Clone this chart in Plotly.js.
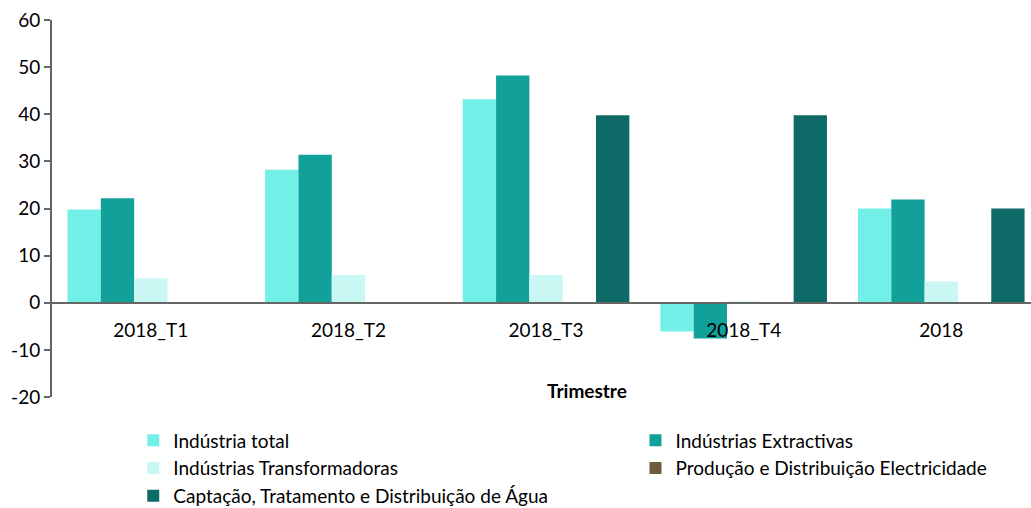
<!DOCTYPE html>
<html>
<head>
<meta charset="utf-8">
<script src="https://cdn.plot.ly/plotly-3.0.1.min.js"></script>
<style>html,body{margin:0;padding:0;background:#fff;}#chart{width:1031px;height:508px;}</style>
</head>
<body>
<div id="chart"></div>
<script>
const categories = ["2018_T1", "2018_T2", "2018_T3", "2018_T4", "2018"];
const seriesNames = ["Indústria total", "Indústrias Extractivas", "Indústrias Transformadoras", "Produção e Distribuição Electricidade", "Captação, Tratamento e Distribuição de Água"];
const industriaTotal = [19.8, 28.2, 43.2, -6.1, 20.0];
const industriasExtractivas = [22.2, 31.4, 48.2, -7.6, 21.9];
const industriasTransformadoras = [5.2, 5.9, 5.9, 0.3, 4.5];
const producaoElectricidade = [null, null, null, null, null];
const captacaoAgua = [null, null, 39.8, 39.8, 20.0];
const seriesColors = ["#72EFE7", "#12A09A", "#C9F7F3", "#6B5A3E", "#0E6A66"];
const legendColumn = ["legend", "legend2", "legend", "legend2", "legend"];
const yTicks = [-20, -10, 0, 10, 20, 30, 40, 50, 60];

const values = [industriaTotal, industriasExtractivas, industriasTransformadoras, producaoElectricidade, captacaoAgua];
const traces = values.map((v, i) => ({
  type: 'bar', name: seriesNames[i], x: categories, y: v, legend: legendColumn[i],
  marker: {color: seriesColors[i], line: {width: 0}}, hoverinfo: 'none'
}));

const font = "Lato, 'Open Sans', sans-serif";
const fs = 19;
const legendBase = {orientation: 'v', xanchor: 'left', yanchor: 'top', traceorder: 'normal',
  font: {family: font, size: fs, color: '#000'}, tracegroupgap: 0, bgcolor: 'rgba(0,0,0,0)'};
const layout = {
  width: 1031, height: 508,
  margin: {l: 52, r: 0, t: 19.5, b: 111, autoexpand: false},
  paper_bgcolor: '#fff', plot_bgcolor: '#fff',
  font: {family: font, size: fs, color: '#000'},
  barmode: 'group', bargap: 0.157, bargroupgap: 0,
  showlegend: true,
  legend: Object.assign({}, legendBase, {x: 0.083, y: -0.065}),
  legend2: Object.assign({}, legendBase, {x: 0.596, y: -0.065}),
  xaxis: {type: 'category', range: [-0.5, 4.454], anchor: 'free', position: 0.25, showline: true, linecolor: '#666', linewidth: 2,
          ticks: '', showgrid: false, zeroline: false, ticklabelstandoff: 10,
          tickfont: {family: font, size: fs, color: '#000'}},
  yaxis: {range: [-20, 60], tickvals: yTicks, ticktext: yTicks.map(String), showline: true, linecolor: '#666', linewidth: 2,
          ticks: 'outside', ticklen: 6, tickcolor: '#666', tickwidth: 2, showgrid: false, zeroline: false,
          tickfont: {family: font, size: fs, color: '#000'}},
  annotations: [{text: '<b>Trimestre</b>', xref: 'paper', yref: 'paper', x: 0.546, y: 0.016,
                 xanchor: 'center', yanchor: 'middle', showarrow: false, font: {family: font, size: fs, color: '#000'}}]
};
Plotly.newPlot('chart', traces, layout, {staticPlot: true, displayModeBar: false});
</script>
</body>
</html>
